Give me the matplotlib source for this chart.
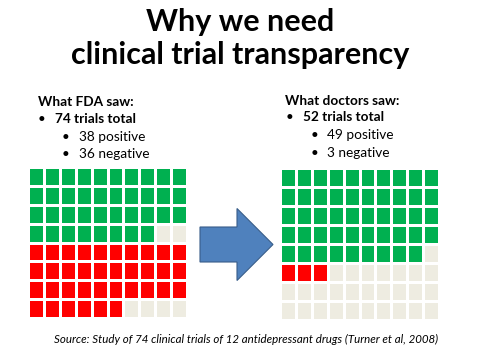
import matplotlib.pyplot as plt
import numpy as np
from matplotlib.colors import ListedColormap
from matplotlib.patches import FancyArrow

plt.rcParams['font.family'] = ['Lato', 'DejaVu Sans']

# data
n_cols = 10
n_rows = 8
fda_positive = 38
fda_negative = 36
doc_positive = 49
doc_negative = 3

title_lines = ["Why we need", "clinical trial transparency"]
source_text = "Source: Study of 74 clinical trials of 12 antidepressant drugs (Turner et al, 2008)"

GREEN = '#00B050'
RED = '#FF0000'
BEIGE = '#EEECE1'
cmap = ListedColormap([BEIGE, GREEN, RED])
FS = 9.8


def build_grid(positive, negative):
    # positives fill rows first, the rest of that row stays empty,
    # negatives start on the next row
    cells = [1] * positive
    while len(cells) % n_cols:
        cells.append(0)
    cells += [2] * negative
    cells += [0] * (n_cols * n_rows - len(cells))
    return np.array(cells).reshape(n_rows, n_cols)


def draw_grid(ax, grid):
    ax.pcolormesh(grid, cmap=cmap, vmin=0, vmax=2,
                  edgecolors='white', linewidth=1.0)
    ax.set_xlim(0, n_cols)
    ax.set_ylim(n_rows, 0)
    ax.axis('off')


fig = plt.figure(figsize=(4.8, 3.6), dpi=100)
bg = fig.add_axes([0, 0, 1, 1])
bg.set_xlim(0, 480)
bg.set_ylim(360, 0)
bg.axis('off')

bg.text(240, 31, title_lines[0], ha='center', va='baseline',
        fontsize=22, fontweight='bold')
bg.text(240, 64, title_lines[1], ha='center', va='baseline',
        fontsize=22, fontweight='bold')

# left block text
bg.text(38, 106, "What FDA saw:", fontsize=FS, fontweight='bold', va='baseline')
bg.text(38, 123, "\u2022", fontsize=FS, va='baseline')
bg.text(55, 123, f"{fda_positive + fda_negative} trials total", fontsize=FS,
        fontweight='bold', va='baseline')
bg.text(62, 141, "\u2022", fontsize=FS, va='baseline')
bg.text(79, 141, f"{fda_positive} positive", fontsize=FS, va='baseline')
bg.text(62, 158, "\u2022", fontsize=FS, va='baseline')
bg.text(79, 158, f"{fda_negative} negative", fontsize=FS, va='baseline')

# right block text
bg.text(285, 105, "What doctors saw:", fontsize=FS, fontweight='bold', va='baseline')
bg.text(286, 121, "\u2022", fontsize=FS, va='baseline')
bg.text(303, 121, f"{doc_positive + doc_negative} trials total", fontsize=FS,
        fontweight='bold', va='baseline')
bg.text(311, 139, "\u2022", fontsize=FS, va='baseline')
bg.text(327, 139, f"{doc_positive} positive", fontsize=FS, va='baseline')
bg.text(311, 157, "\u2022", fontsize=FS, va='baseline')
bg.text(327, 157, f"{doc_negative} negative", fontsize=FS, va='baseline')

bg.add_patch(FancyArrow(200, 244.5, 73, 0, width=35, head_width=72,
                        head_length=36, length_includes_head=True,
                        facecolor='#4F81BD', edgecolor='#385D8A', linewidth=0.8))

bg.text(246, 343, source_text, ha='center', va='baseline',
        fontsize=8.3, style='italic')

ax_left = fig.add_axes([28 / 480, 42 / 360, 159 / 480, 151 / 360])
draw_grid(ax_left, build_grid(fda_positive, fda_negative))

ax_right = fig.add_axes([280 / 480, 40 / 360, 159 / 480, 152 / 360])
draw_grid(ax_right, build_grid(doc_positive, doc_negative))

fig.savefig('out.png', dpi=100)
